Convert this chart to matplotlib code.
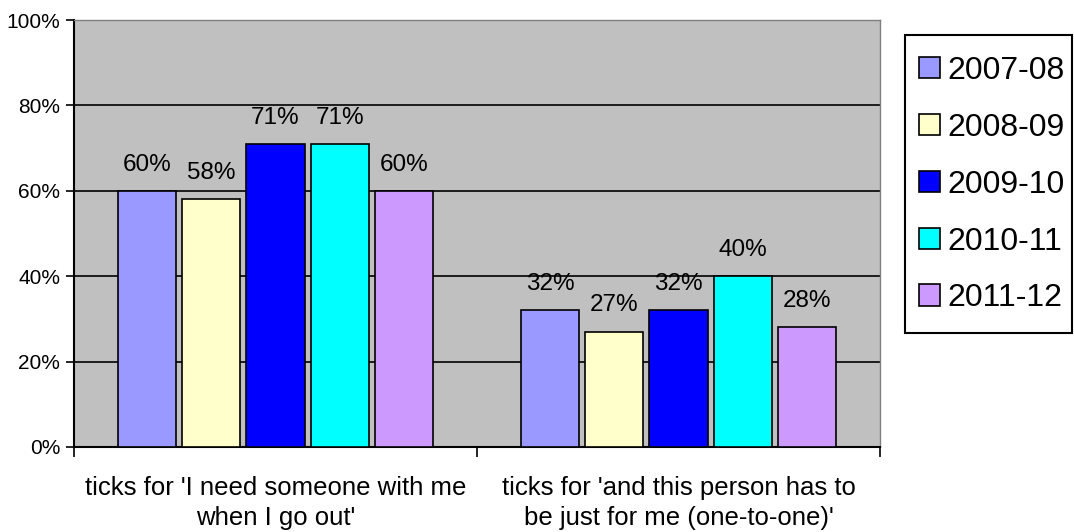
import matplotlib
matplotlib.use("Agg")
import matplotlib.pyplot as plt
from matplotlib.patches import Rectangle
import numpy as np

plt.rcParams['font.family'] = ['Liberation Sans', 'DejaVu Sans']

categories = ["ticks for 'I need someone with me\nwhen I go out'",
              "ticks for 'and this person has to\nbe just for me (one-to-one)'"]
years = ["2007-08", "2008-09", "2009-10", "2010-11", "2011-12"]
values = {
    "2007-08": [60, 32],
    "2008-09": [58, 27],
    "2009-10": [71, 32],
    "2010-11": [71, 40],
    "2011-12": [60, 28],
}
colors = ["#9999FF", "#FFFFCC", "#0000FF", "#00FFFF", "#CC99FF"]

W, H = 1074, 532
fig = plt.figure(figsize=(W / 100, H / 100), dpi=100)
ax = fig.add_axes([74 / W, 85 / H, 806 / W, 427 / H])
ax.set_facecolor("#C0C0C0")

pitch = 0.159
width = 0.144
x = np.arange(len(categories))
for i, (yr, col) in enumerate(zip(years, colors)):
    pos = x + (i - 2) * pitch
    bars = ax.bar(pos, values[yr], width=width, color=col, edgecolor="black",
                  linewidth=1.2, label=yr, zorder=3)
    for b, v in zip(bars, values[yr]):
        ax.annotate(f"{v}%", (b.get_x() + b.get_width() / 2, v),
                    xytext=(0, 11), textcoords="offset points",
                    ha="center", va="bottom", fontsize=17.5)

ax.set_xlim(-0.5, 1.5)
ax.set_ylim(0, 100)
ax.set_yticks(np.arange(0, 101, 20))
ax.set_yticklabels([f"{t}%" for t in range(0, 101, 20)], fontsize=15)
ax.yaxis.grid(True, color="black", linewidth=1.2, zorder=1)
ax.set_axisbelow(True)

ax.set_xticks([-0.5, 0.5, 1.5])
ax.set_xticklabels([])
ax.set_xticks(x, minor=True)
ax.set_xticklabels(categories, minor=True, fontsize=18.5, linespacing=1.32)
ax.tick_params(axis="x", which="minor", length=0, pad=21)
ax.tick_params(axis="x", which="major", length=7, width=1.2, direction="out")
ax.tick_params(axis="y", length=6, width=1.2, direction="out", pad=4)

for s in ["left", "bottom"]:
    ax.spines[s].set_color("black")
    ax.spines[s].set_linewidth(1.5)
for s in ["top", "right"]:
    ax.spines[s].set_color("#808080")
    ax.spines[s].set_linewidth(1.0)

# legend frame drawn separately so its padding can differ per side
fig.patches.append(Rectangle((905 / W, 1 - 333 / H), 167 / W, 298 / H,
                             transform=fig.transFigure, facecolor="white",
                             edgecolor="black", linewidth=1.5, zorder=-1))
handles, labels = ax.get_legend_handles_labels()
leg = fig.legend(handles, labels, loc="upper left",
                 bbox_to_anchor=(919 / W, 1 - 56 / H),
                 fontsize=23, frameon=False,
                 handlelength=0.65, handleheight=0.65, handletextpad=0.25,
                 labelspacing=0.84, borderpad=0, borderaxespad=0)
leg.set_zorder(5)

fig.savefig("out.png", dpi=100)
